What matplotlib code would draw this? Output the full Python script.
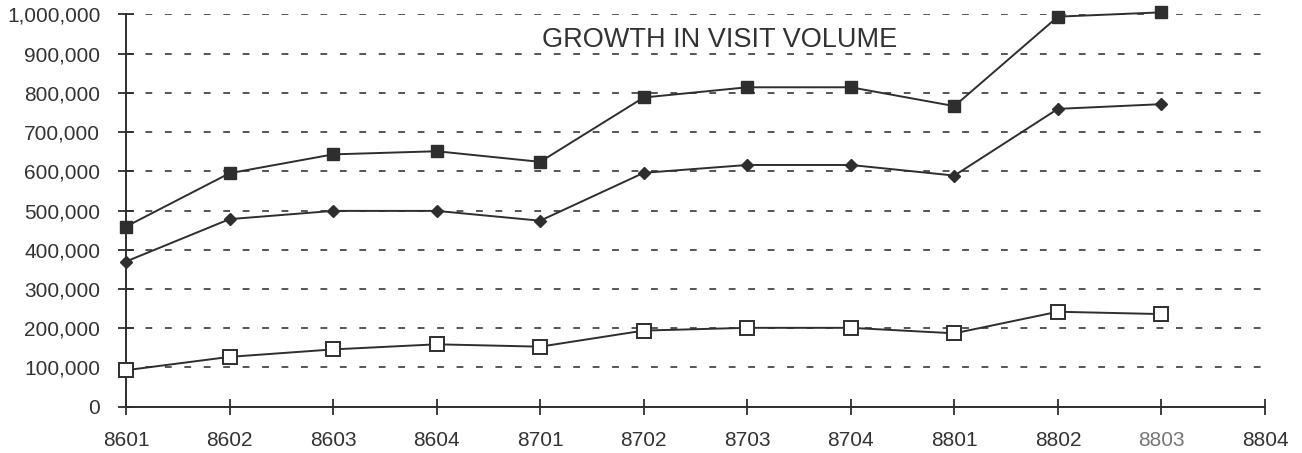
import matplotlib
matplotlib.use("Agg")
import matplotlib.pyplot as plt
from matplotlib.ticker import FuncFormatter

plt.rcParams['font.family'] = ['Liberation Sans', 'DejaVu Sans']

categories = ["8601", "8602", "8603", "8604", "8701", "8702", "8703", "8704",
              "8801", "8802", "8803", "8804"]
series_top = [459000, 595000, 643000, 651000, 624000, 788000, 814000, 814000,
              766000, 994000, 1005000]
series_mid = [370000, 478000, 499000, 499000, 474000, 596000, 616000, 616000,
              589000, 759000, 771000]
series_low = [93000, 127000, 146000, 159000, 153000, 194000, 201000, 201000,
              187000, 242000, 236000]
yticks = list(range(0, 1000001, 100000))
title = "GROWTH IN VISIT VOLUME"

W, H = 1302, 453
fig = plt.figure(figsize=(W / 100, H / 100), dpi=100)
ax = fig.add_axes([126 / W, (H - 406.7) / H, (1265 - 126) / W, (406.7 - 14.3) / H])

ink = "#2e2e2e"
x = list(range(len(series_top)))

for yv in yticks[1:]:
    ax.axhline(yv, color="#555555", lw=1.4, ls=(0, (3.5, 6.5)), zorder=1)

ax.plot(x, series_top, color=ink, lw=1.4, marker="s", ms=8, mfc=ink, mec=ink,
        clip_on=False, zorder=3)
ax.plot(x, series_mid, color=ink, lw=1.4, marker="D", ms=6.3, mfc=ink, mec=ink,
        clip_on=False, zorder=3)
ax.plot(x, series_low, color=ink, lw=1.4, marker="s", ms=9.5, mfc="white", mec=ink,
        mew=1.4, clip_on=False, zorder=3)

ax.set_xlim(0, len(categories) - 1)
ax.set_ylim(0, 1000000)
ax.set_xticks(range(len(categories)))
ax.set_xticklabels(categories)
ax.set_yticks(yticks)
ax.yaxis.set_major_formatter(FuncFormatter(lambda v, p: f"{int(v):,}"))

for s in ["top", "right"]:
    ax.spines[s].set_visible(False)
for s in ["left", "bottom"]:
    ax.spines[s].set_color(ink)
    ax.spines[s].set_linewidth(1.4)

ax.tick_params(axis="both", direction="inout", length=11, width=1.3, color=ink,
               labelsize=15, labelcolor="#333333")
ax.tick_params(axis="y", pad=13)
ax.tick_params(axis="x", pad=12)
ax.get_xticklabels()[10].set_color("#777777")

ax.set_facecolor("white")
fig.text(720 / W, (H - 46.7) / H, title, ha="center", va="baseline",
         fontsize=19.5, color="#333333")

fig.savefig("out.png", dpi=100, facecolor="white")
